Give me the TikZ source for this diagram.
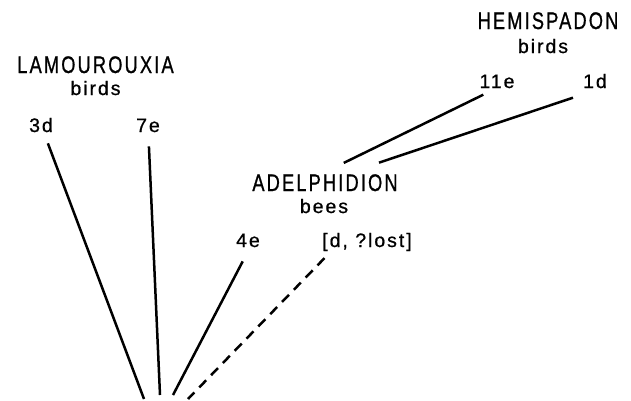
\documentclass[tikz,border=0pt]{standalone}
\usepackage{fontspec}
\newfontfamily\namefont[FakeStretch=0.76,LetterSpace=9,FakeBold=0.8]{Liberation Sans}
\newfontfamily\notefont[LetterSpace=10,FakeBold=0.8]{Liberation Sans}
\begin{document}
\begin{tikzpicture}[x=1pt,y=-1pt,
  lbl/.style={inner sep=0pt, anchor=base},
  genus/.style={lbl, font=\namefont\fontsize{24}{28}\selectfont},
  note/.style={lbl, font=\notefont\fontsize{19.5}{23}\selectfont},
  branch/.style={draw, line width=2.5pt}]
\useasboundingbox (0,0) rectangle (631,400);
\node[genus] (lam) at (95.5,73) {LAMOUROUXIA};
\node[note] (lambirds) at (95.5,95) {birds};
\node[note] (d3) at (41,132) {3d};
\node[note] (e7) at (148,132) {7e};
\node[genus] (hem) at (548,29) {HEMISPADON};
\node[note] (hembirds) at (543,53) {birds};
\node[note] (e11) at (497,88) {11e};
\node[note] (d1) at (595,88) {1d};
\node[genus] (adel) at (325,191) {ADELPHIDION};
\node[note] (adelbees) at (324,213) {bees};
\node[note] (e4) at (248,247) {4e};
\node[note] (lost) at (367,247) {[d, ?lost]};
\coordinate (foot1) at (144,399);
\coordinate (foot2) at (160,395);
\coordinate (foot3) at (173,395);
\coordinate (foot4) at (188,399);
\path[branch, shorten <=11.7pt] (d3) -- (foot1);
\path[branch, shorten <=14pt] (e7) -- (foot2);
\path[branch, shorten <=15.8pt] ([xshift=2pt]e4.south) -- (foot3);
\path[branch, dash pattern=on 10pt off 7pt, shorten <=9.6pt] ([xshift=9pt]lost.south west) -- (foot4);
\path[branch, shorten >=25.3pt] ([xshift=-13.7pt,yshift=-6.3pt]e11.south) -- ([xshift=-4pt]adel.north);
\path[branch, shorten >=35.9pt] ([xshift=-22pt,yshift=-9.3pt]d1.south) -- ([xshift=20pt]adel.north);
\end{tikzpicture}
\end{document}
